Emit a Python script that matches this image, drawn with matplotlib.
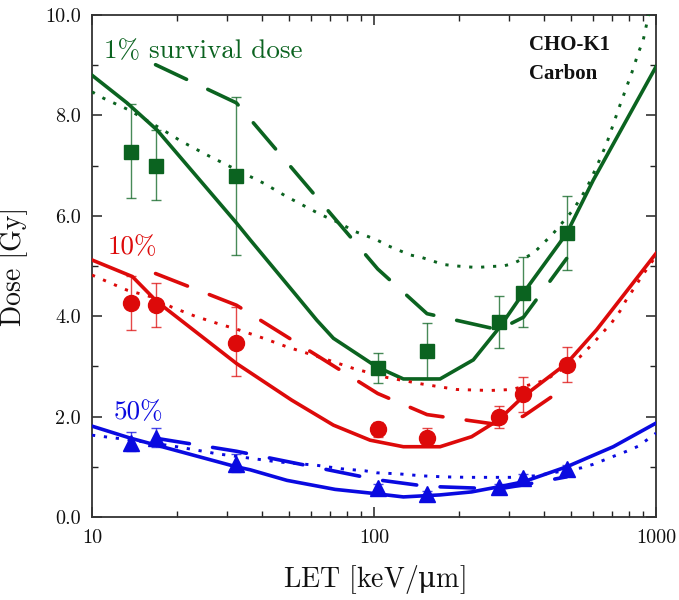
import matplotlib
matplotlib.use("Agg")
import matplotlib.pyplot as plt
from matplotlib.ticker import FixedLocator, FuncFormatter, NullFormatter

plt.rcParams['font.family'] = ['cmr10', 'DejaVu Serif']
plt.rcParams['axes.unicode_minus'] = False
plt.rcParams['axes.formatter.use_mathtext'] = True

# ---------------- data ----------------
exp_let = [13.7, 16.8, 32.5, 103.1, 154.2, 276.8, 338.9, 482.2]

g_dose = [7.27, 6.99, 6.79, 2.97, 3.31, 3.88, 4.47, 5.65]
g_hi = [8.23, 7.71, 8.37, 3.27, 3.86, 4.41, 5.17, 6.39]
g_lo = [6.35, 6.31, 5.22, 2.67, 2.75, 3.36, 3.78, 4.92]

r_dose = [4.26, 4.22, 3.47, 1.75, 1.58, 2.00, 2.45, 3.03]
r_hi = [4.80, 4.67, 4.18, 1.90, 1.77, 2.21, 2.79, 3.38]
r_lo = [3.72, 3.78, 2.81, 1.60, 1.45, 1.77, 2.10, 2.68]

b_dose = [1.48, 1.57, 1.05, 0.58, 0.45, 0.59, 0.78, 0.95]
b_hi = [1.70, 1.78, 1.25, 0.66, 0.52, 0.66, 0.86, 1.03]
b_lo = [1.31, 1.40, 0.90, 0.52, 0.39, 0.52, 0.70, 0.88]

# solid model curves
gs_let = [10.0, 13.3, 17.0, 32.5, 36.4, 53.3, 62.7, 71.8, 102.3, 127.1, 171.5, 225.0, 279.8, 338.3, 482.2, 599.1, 1000]
gs_dose = [8.80, 8.25, 7.71, 5.86, 5.52, 4.40, 3.92, 3.56, 2.99, 2.75, 2.75, 3.13, 3.79, 4.46, 5.65, 6.71, 8.97]

rs_let = [10.0, 13.9, 17.0, 32.5, 51.0, 71.8, 96.9, 127.1, 171.5, 222.0, 275.9, 338.3, 482.2, 615.9, 1000]
rs_dose = [5.12, 4.79, 4.29, 3.06, 2.33, 1.83, 1.53, 1.40, 1.40, 1.60, 1.93, 2.40, 3.06, 3.73, 5.25]

bs_let = [10.0, 13.7, 32.5, 36.4, 49.1, 72.8, 99.5, 127.1, 171.5, 222.0, 275.9, 338.3, 482.2, 705.4, 1000]
bs_dose = [1.81, 1.57, 1.00, 0.94, 0.73, 0.55, 0.47, 0.40, 0.44, 0.50, 0.60, 0.70, 1.00, 1.40, 1.87]

# dashed model curves
dash_let = [16.8, 32.5, 103.1, 154.2, 276.8, 338.9, 482.2]
gd_dose = [9.01, 8.25, 4.94, 4.05, 3.73, 3.98, 5.15]
rd_dose = [4.85, 4.22, 2.46, 2.04, 1.84, 2.01, 2.60]
bd_dose = [1.57, 1.31, 0.74, 0.61, 0.56, 0.64, 0.80]

# dotted model curves
gt_let = [10.0, 11.0, 13.5, 17.5, 20.8, 25.6, 30.9, 40.6, 49.1, 64.4, 75.9, 84.5, 102.3, 112.5, 134.3,
          147.7, 176.2, 196.6, 231.3, 257.8, 287.3, 311.8, 367.1, 432.3, 508.9, 567.7, 615.9, 668.3,
          734.8, 786.9, 819.6, 865.0, 901.0, 938.5, 1000]
gt_dose = [8.47, 8.34, 8.11, 7.74, 7.48, 7.21, 6.98, 6.65, 6.38, 6.03, 5.85, 5.70, 5.52, 5.40, 5.22,
           5.17, 5.03, 5.00, 4.97, 4.99, 5.00, 5.05, 5.25, 5.65, 6.12, 6.55, 6.98, 7.44,
           8.11, 8.57, 8.84, 9.24, 9.50, 9.97, 10.7]

rt_let = [10.0, 11.0, 13.3, 16.1, 19.2, 23.2, 27.7, 33.5, 40.6, 49.1, 64.4, 84.5, 111.0, 147.7, 196.6,
          257.8, 307.8, 372.3, 409.6, 537.5, 591.3, 641.6, 696.2, 745.0, 786.9, 837.2, 889.3, 1000]
rt_dose = [4.82, 4.72, 4.52, 4.39, 4.18, 4.00, 3.86, 3.72, 3.56, 3.39, 3.18, 2.96, 2.78, 2.65, 2.54,
           2.52, 2.54, 2.66, 2.74, 3.19, 3.43, 3.65, 3.87, 4.10, 4.34, 4.56, 4.79, 5.20]

bt_let = [10.0, 12.6, 17.0, 20.0, 23.6, 27.7, 35.4, 45.2, 62.7, 76.9, 93.0, 102.3, 122.1, 147.7, 176.2,
          216.1, 303.5, 372.3, 545.0, 599.1, 715.2, 786.9, 865.0, 946.2, 1000]
bt_dose = [1.63, 1.56, 1.46, 1.40, 1.33, 1.26, 1.18, 1.10, 1.03, 0.96, 0.92, 0.88, 0.86, 0.82, 0.80,
           0.79, 0.79, 0.82, 0.98, 1.05, 1.22, 1.31, 1.41, 1.57, 1.67]

x_ticks = [10, 100, 1000]
y_ticks = [0, 2, 4, 6, 8, 10]

GREEN = '#0b6320'
RED = '#dd0a0a'
BLUE = '#0a0ae0'

# ---------------- figure ----------------
fig = plt.figure(figsize=(6.79, 6.0), dpi=100)
ax = fig.add_axes([92 / 679, 1 - 517 / 600, 564 / 679, 502 / 600])

lw = 2.6
dash_style = (0, (9.5, 6.5))
dot_style = (0, (1.1, 3.0))

for lets, dose, col in [(gs_let, gs_dose, GREEN), (rs_let, rs_dose, RED), (bs_let, bs_dose, BLUE)]:
    ax.plot(lets, dose, color=col, lw=lw, solid_joinstyle='miter', zorder=3)

for dose, col in [(gd_dose, GREEN), (rd_dose, RED), (bd_dose, BLUE)]:
    ax.plot(dash_let, dose, color=col, lw=lw, linestyle=dash_style, dash_capstyle='round', zorder=3)

for lets, dose, col in [(gt_let, gt_dose, GREEN), (rt_let, rt_dose, RED), (bt_let, bt_dose, BLUE)]:
    ax.plot(lets, dose, color=col, lw=2.1, linestyle=dot_style, dash_capstyle='butt', zorder=3)

for dose, hi, lo, col, mk, ms in [(g_dose, g_hi, g_lo, GREEN, 's', 10.5),
                                   (r_dose, r_hi, r_lo, RED, 'o', 11.5),
                                   (b_dose, b_hi, b_lo, BLUE, '^', 11.5)]:
    yerr = [[d - l for d, l in zip(dose, lo)], [h - d for d, h in zip(dose, hi)]]
    ax.errorbar(exp_let, dose, yerr=yerr, fmt='none', ecolor=col, elinewidth=1.0,
                capsize=3.5, capthick=1.0, alpha=0.75, zorder=4)
    ax.plot(exp_let, dose, linestyle='none', marker=mk, ms=ms, color=col, mec=col, zorder=5)

ax.set_xscale('log')
ax.set_xlim(10, 1000)
ax.set_ylim(0, 10)

ax.xaxis.set_major_locator(FixedLocator(x_ticks))
ax.xaxis.set_major_formatter(FuncFormatter(lambda v, p: '%d' % v))
ax.xaxis.set_minor_locator(FixedLocator([m * d for d in (10, 100) for m in range(2, 10)]))
ax.xaxis.set_minor_formatter(NullFormatter())
ax.yaxis.set_major_locator(FixedLocator(y_ticks))
ax.yaxis.set_major_formatter(FuncFormatter(lambda v, p: '%.1f' % v))
ax.yaxis.set_minor_locator(FixedLocator([1, 3, 5, 7, 9]))

ax.tick_params(which='both', direction='in', top=True, right=True, colors='#222222',
               labelcolor='#111111', labelsize=14.5)
ax.tick_params(which='major', length=7, width=1.1)
ax.tick_params(which='minor', length=4, width=1.0)
ax.tick_params(axis='x', which='major', pad=9)
ax.tick_params(axis='y', which='major', pad=8)
for s in ax.spines.values():
    s.set_linewidth(1.3)
    s.set_color('#333333')

ax.set_xlabel(r'LET [keV/$\mathrm{\mu}$m]', fontsize=20, labelpad=11, color='#111111',
              math_fontfamily='dejavuserif')
ax.set_ylabel('Dose [Gy]', fontsize=20, labelpad=12, color='#111111')

ax.text(11.0, 9.27, '1% survival dose', color=GREEN, fontsize=19.5, va='center', ha='left')
ax.text(11.4, 5.38, '10%', color=RED, fontsize=19.5, va='center', ha='left')
ax.text(11.9, 2.09, '50%', color=BLUE, fontsize=19.5, va='center', ha='left')

ax.text(0.775, 0.940, 'CHO-K1', transform=ax.transAxes, fontsize=15, fontweight='bold',
        family='Liberation Serif', va='center', ha='left', color='#111111')
ax.text(0.775, 0.882, 'Carbon', transform=ax.transAxes, fontsize=15, fontweight='bold',
        family='Liberation Serif', va='center', ha='left', color='#111111')

fig.savefig('out.png', dpi=100)
